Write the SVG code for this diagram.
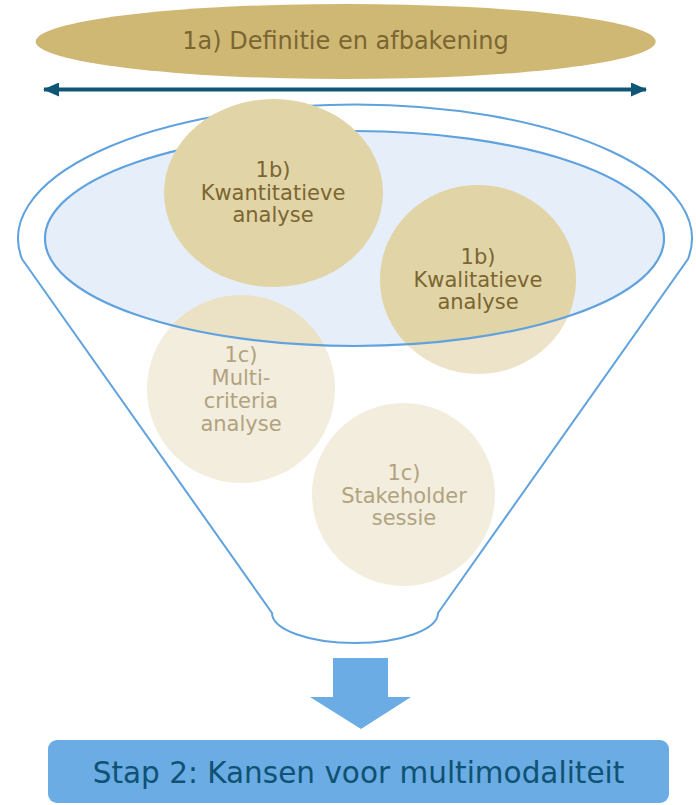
<svg xmlns="http://www.w3.org/2000/svg" width="696" height="805" viewBox="0 0 696 805">
  <style>
    .lbl { font-family: "DejaVu Sans", Verdana, sans-serif; font-size: 21px; text-anchor: middle; }
    .dark { fill: #7B6631; }
    .light { fill: #B1A37E; }
    .blue { stroke: #5FA2DE; fill: none; }
  </style>
  <defs>
    <clipPath id="surf">
      <ellipse cx="354.5" cy="238.5" rx="309.5" ry="107.5"/>
    </clipPath>
    <marker id="ah" viewBox="0 0 16 14" refX="15" refY="7" markerWidth="16" markerHeight="14" markerUnits="userSpaceOnUse" orient="auto-start-reverse">
      <path d="M0,0 L16,7 L0,14 Z" fill="#0F5676"/>
    </marker>
  </defs>

  <g id="definitie">
    <ellipse cx="345.7" cy="41.5" rx="310" ry="37.5" fill="#CFB874"/>
    <text x="345.5" y="49.3" font-family="DejaVu Sans, Verdana, sans-serif" font-size="24" text-anchor="middle" fill="#7B6631">1a) Definitie en afbakening</text>
  </g>

  <g id="connectors">
    <line x1="44" y1="89.5" x2="646" y2="89.5" stroke="#0F5676" stroke-width="4" marker-start="url(#ah)" marker-end="url(#ah)"/>
    <polygon points="333,658 388,658 388,697 411,697 361,729 310,697 333,697" fill="#6AACE3"/>
  </g>

  <g id="funnel">
    <path class="blue" stroke-width="2" d="M22,259 L272,613 A83 30 0 0 0 438 613 L688,259 A337 134 0 1 0 22 259 Z"/>
    <ellipse cx="354.5" cy="238.5" rx="311" ry="109" fill="none" stroke="#FFFFFF" stroke-width="2"/>
    <ellipse cx="354.5" cy="238.5" rx="309.5" ry="107.5" fill="#E6EFF9"/>
  </g>

  <g id="multicriteria">
    <circle cx="241" cy="389" r="94" fill="#F3EDDE"/>
    <circle cx="241" cy="389" r="94" fill="#EBE2C6" clip-path="url(#surf)"/>
  </g>
  <g id="stakeholder">
    <circle cx="403.5" cy="494.5" r="91.5" fill="#F3EDDE"/>
  </g>
  <g id="kwalitatief">
    <ellipse cx="478" cy="279.5" rx="98" ry="94.5" fill="#EDE3C8"/>
    <ellipse cx="478" cy="279.5" rx="98" ry="94.5" fill="#E1D4A7" clip-path="url(#surf)"/>
  </g>

  <ellipse class="blue" cx="354.5" cy="238.5" rx="309.5" ry="107.5" stroke-width="2.2"/>

  <g id="kwantitatief">
    <ellipse cx="273.5" cy="193" rx="109.5" ry="94" fill="#E1D4A7"/>
    <text class="lbl dark" x="273" y="177">1b)</text>
    <text class="lbl dark" x="273" y="199.5">Kwantitatieve</text>
    <text class="lbl dark" x="273" y="222">analyse</text>
  </g>

  <g id="kwalitatief-text">
    <text class="lbl dark" x="478" y="264">1b)</text>
    <text class="lbl dark" x="478" y="287">Kwalitatieve</text>
    <text class="lbl dark" x="478" y="309">analyse</text>
  </g>

  <g id="multicriteria-text">
    <text class="lbl light" x="241" y="362">1c)</text>
    <text class="lbl light" x="241" y="385">Multi-</text>
    <text class="lbl light" x="241" y="408">criteria</text>
    <text class="lbl light" x="241" y="431">analyse</text>
  </g>

  <g id="stakeholder-text">
    <text class="lbl light" x="404" y="480">1c)</text>
    <text class="lbl light" x="404" y="503">Stakeholder</text>
    <text class="lbl light" x="404" y="525">sessie</text>
  </g>

  <g id="stap2">
    <rect x="48" y="740" width="621" height="63" rx="9" fill="#6AACE3"/>
    <text x="358.5" y="783" font-family="DejaVu Sans, Verdana, sans-serif" font-size="29.5" text-anchor="middle" fill="#0F5273">Stap 2: Kansen voor multimodaliteit</text>
  </g>
</svg>
